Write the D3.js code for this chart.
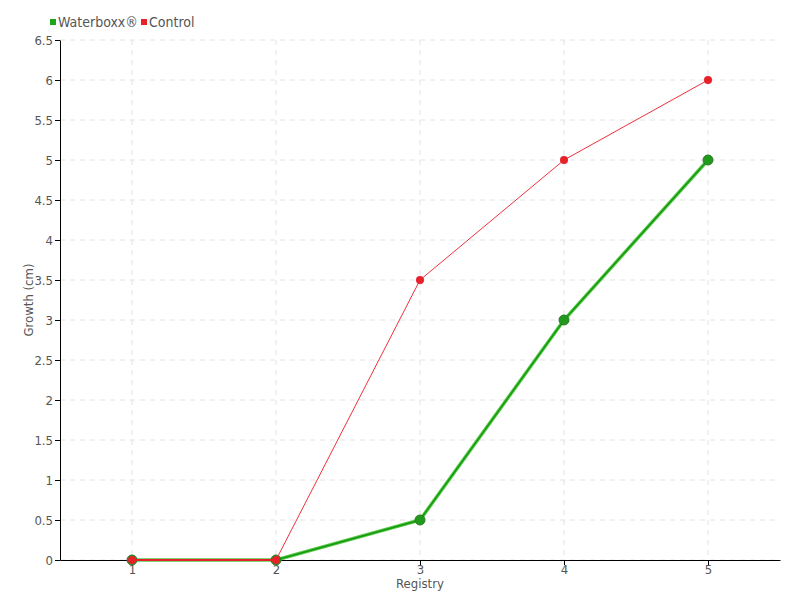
<!DOCTYPE html>
<html>
<head>
<meta charset="utf-8">
<script src="https://cdn.jsdelivr.net/npm/d3@7"></script>
<style>
  body { margin: 0; background: #fff; }
  svg text { font-family: "DejaVu Sans Condensed", "Liberation Sans Narrow", sans-serif; font-stretch: condensed; fill: #555; }
</style>
</head>
<body>
<div id="chart"></div>
<script>
const registry = [1, 2, 3, 4, 5];
const waterboxx = [0, 0, 0.5, 3, 5];
const control = [0, 0, 3.5, 5, 6];
const yTicks = [0, 0.5, 1, 1.5, 2, 2.5, 3, 3.5, 4, 4.5, 5, 5.5, 6, 6.5];

const width = 800, height = 600;
const margin = { top: 40, right: 20, bottom: 40, left: 60 };

const svg = d3.select('#chart').append('svg')
  .attr('width', width).attr('height', height);

const x = d3.scaleLinear()
  .domain([0.5, 5.5])
  .range([margin.left, width - margin.right]);

const y = d3.scaleLinear()
  .domain([0, 6.5])
  .range([height - margin.bottom, margin.top]);

// grid
svg.append('g')
  .selectAll('line')
  .data(yTicks)
  .join('line')
  .attr('x1', margin.left).attr('x2', width - margin.right)
  .attr('y1', d => y(d)).attr('y2', d => y(d))
  .attr('stroke', '#e2e2e2').attr('stroke-dasharray', '5,5');

svg.append('g')
  .selectAll('line')
  .data(registry)
  .join('line')
  .attr('x1', d => x(d)).attr('x2', d => x(d))
  .attr('y1', margin.top).attr('y2', height - margin.bottom)
  .attr('stroke', '#e2e2e2').attr('stroke-dasharray', '5,5');

// axes
const xAxis = g => g
  .attr('transform', `translate(0,${height - margin.bottom})`)
  .call(d3.axisBottom(x).tickValues(registry).tickFormat(d3.format('d')).tickSize(5).tickPadding(0).tickSizeOuter(0))
  .call(g => g.select('.domain').attr('stroke', '#000'))
  .call(g => g.selectAll('.tick line').attr('stroke', '#000'))
  .call(g => g.selectAll('.tick text').attr('font-size', 13).attr('fill', '#555'));

const yAxis = g => g
  .attr('transform', `translate(${margin.left},0)`)
  .call(d3.axisLeft(y).tickValues(yTicks).tickFormat(d => d).tickSize(5).tickPadding(2).tickSizeOuter(0))
  .call(g => g.select('.domain').attr('stroke', '#000'))
  .call(g => g.selectAll('.tick line').attr('stroke', '#000'))
  .call(g => g.selectAll('.tick text').attr('font-size', 13).attr('fill', '#555'));

svg.append('g').call(xAxis);
svg.append('g').call(yAxis);

// axis titles
svg.append('text')
  .attr('x', x(3)).attr('y', 588)
  .attr('text-anchor', 'middle')
  .attr('font-size', 13)
  .text('Registry');

svg.append('text')
  .attr('transform', `translate(33,${y(3.25)}) rotate(-90)`)
  .attr('text-anchor', 'middle')
  .attr('font-size', 13)
  .text('Growth (cm)');

// lines
const line = d3.line()
  .x((d, i) => x(registry[i]))
  .y(d => y(d));

svg.append('path')
  .datum(waterboxx)
  .attr('fill', 'none')
  .attr('stroke', '#55c845')
  .attr('stroke-width', 3.5)
  .attr('d', line);
svg.append('path')
  .datum(waterboxx)
  .attr('fill', 'none')
  .attr('stroke', '#169a10')
  .attr('stroke-width', 1.5)
  .attr('d', line);

svg.append('g')
  .selectAll('circle')
  .data(waterboxx)
  .join('circle')
  .attr('cx', (d, i) => x(registry[i]))
  .attr('cy', d => y(d))
  .attr('r', 5)
  .attr('fill', '#1f9a1a')
  .attr('stroke', '#2f7a2a')
  .attr('stroke-width', 1);

svg.append('path')
  .datum(control)
  .attr('fill', 'none')
  .attr('stroke', '#f0303a')
  .attr('stroke-width', 1)
  .attr('d', line);

svg.append('g')
  .selectAll('circle')
  .data(control)
  .join('circle')
  .attr('cx', (d, i) => x(registry[i]))
  .attr('cy', d => y(d))
  .attr('r', 4)
  .attr('fill', '#e8202a');

// red line over the green markers at zero
svg.append('path')
  .datum(control.slice(0, 2))
  .attr('fill', 'none')
  .attr('stroke', '#e8202a')
  .attr('stroke-width', 2)
  .attr('d', line);

// legend
const legend = [
  { name: 'Waterboxx®', color: '#1fa51a', x: 50 },
  { name: 'Control', color: '#e8202a', x: 141 }
];
const lg = svg.append('g').selectAll('g').data(legend).join('g')
  .attr('transform', d => `translate(${d.x},22)`);
lg.append('rect')
  .attr('x', 0).attr('y', -3).attr('width', 6).attr('height', 6)
  .attr('fill', d => d.color);
lg.append('text')
  .attr('x', 8).attr('y', 5)
  .attr('font-size', 14)
  .text(d => d.name);
</script>
</body>
</html>
